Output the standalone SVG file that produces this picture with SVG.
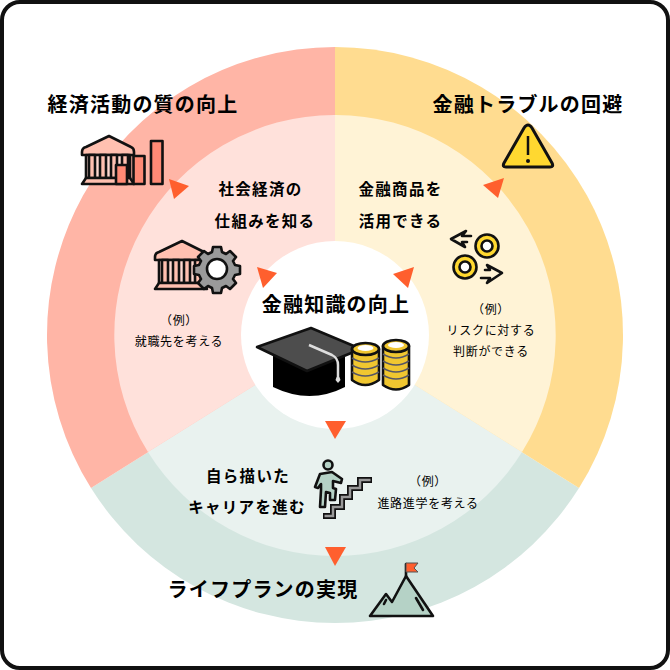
<svg xmlns="http://www.w3.org/2000/svg" width="670" height="670" viewBox="0 0 670 670">
<style>
text{font-family:"Noto Sans CJK JP","Liberation Sans",sans-serif;fill:#000;text-anchor:middle}
.t1{font-size:20px;font-weight:700;letter-spacing:1.2px}
.t2{font-size:15.500px;font-weight:700;letter-spacing:1.3px}
.t3{font-size:12px;font-weight:400;letter-spacing:.7px}
.k{stroke:#111;stroke-width:2.6;stroke-linejoin:round;stroke-linecap:round}
.tri{fill:#ff5f2e}
</style>
<defs>
<g id="bank">
<path class="k" fill="#ffc0b0" d="M1 17 Q1 13 5 12 L28 1 L50 12 Q53 13 53 17 L53 20 L1 20Z"/>
<path class="k" fill="#ffd9d0" d="M5 20H49V43H5Z"/>
<path class="k" fill="#ffc0b0" d="M8 20V43H14V20ZM19 20V43H25V20ZM30 20V43H36V20ZM41 20V43H47V20Z"/>
<path class="k" fill="#ffc0b0" d="M5 43H49L53 49H1Z"/>
</g>
</defs>
<rect x="2" y="2" width="666" height="666" rx="18" fill="#fff" stroke="#111" stroke-width="4"/>
<g id="rings">
<path fill="#d4e6e0" d="M335 335L91 488A288 288 0 0 0 579 488Z"/>
<path fill="#ffb5a6" d="M335 335L91 488A288 288 0 0 1 335 47Z"/>
<path fill="#ffdc90" d="M335 335V47A288 288 0 0 1 579 488Z"/>
<path fill="#e9f2ef" d="M335 335L148 452A220 220 0 0 0 522 452Z"/>
<path fill="#ffe1db" d="M335 335L148 452A220 220 0 0 1 335 115Z"/>
<path fill="#fff3d6" d="M335 335V115A220 220 0 0 1 522 452Z"/>
<circle cx="335" cy="335" r="94" fill="#fff"/>
</g>
<g id="connectors">
<path class="tri" d="M169 179L189 186L174 199Z"/>
<path class="tri" d="M504 178L483 185L498 198Z"/>
<path class="tri" d="M257 267L277 273L263 288Z"/>
<path class="tri" d="M414 267L393 274L408 288Z"/>
<path class="tri" d="M325 421H346L335 439Z"/>
<path class="tri" d="M325 547H346L335 566Z"/>
</g>
<g id="node-economy">
<text class="t1" x="143" y="112">経済活動の質の向上</text>
<use href="#bank" x="81" y="135"/>
<rect class="k" fill="#ff8a75" x="116" y="165" width="11" height="19"/>
<rect class="k" fill="#ff8a75" x="133.500" y="156" width="11" height="28"/>
<rect class="k" fill="#ff8a75" x="151" y="141" width="11.500" height="43"/>
</g>
<g id="node-trouble">
<text class="t1" x="528" y="112">金融トラブルの回避</text>
<path class="k" fill="#ffd830" d="M524 128Q528 122 532 128L552 163Q554 167 550 167H506Q502 167 504 163Z" style="stroke-width:3"/>
<path d="M528 136V155" stroke="#111" stroke-width="2.500"/>
<circle cx="528" cy="161" r="2" fill="#111"/>
</g>
<g id="node-society">
<text class="t2" x="260.500" y="195">社会経済の</text>
<text class="t2" x="265" y="227">仕組みを知る</text>
<use href="#bank" x="154" y="240" />
<path class="k" fill="#9a9a9a" d="M213 247h8l1 5 4 2 4-3 6 6-3 4 2 4 5 1v8l-5 1-2 4 3 4-6 6-4-3-4 2-1 5h-8l-1-5-4-2-4 3-6-6 3-4-2-4-5-1v-8l5-1 2-4-3-4 6-6 4 3 4-2z"/>
<circle cx="217" cy="269" r="10" fill="#fff" class="k"/>
<text class="t3" x="179" y="325">（例）</text>
<text class="t3" x="179" y="346">就職先を考える</text>
</g>
<g id="node-products">
<text class="t2" x="400.500" y="195">金融商品を</text>
<text class="t2" x="400.500" y="227">活用できる</text>
<circle cx="487" cy="246" r="11.500" fill="#ffd830" class="k"/><circle cx="487" cy="246" r="5.500" fill="#fff" class="k"/>
<circle cx="465" cy="267" r="11.500" fill="#ffd830" class="k"/><circle cx="465" cy="267" r="5.500" fill="#fff" class="k"/>
<path class="k" fill="none" d="M471 236H462L466 231L451 239L465 247L462 242H467"/>
<path class="k" fill="none" d="M481 278H490L487 283L502 273L487 265L490 270H485"/>
<text class="t3" x="491" y="314">（例）</text>
<text class="t3" x="491" y="335">リスクに対する</text>
<text class="t3" x="491" y="356">判断ができる</text>
</g>
<g id="node-center">
<text class="t1" x="336" y="312">金融知識の向上</text>
<path fill="#000" d="M273 355H345V387Q310 405 273 387Z"/>
<path class="k" fill="#4d4d4d" d="M257 347L311 328L361 349L307 371Z"/>
<path d="M309 345L332 355Q338 358 338 365V376" fill="none" stroke="#ddd" stroke-width="2.500"/>
<path fill="#ddd" d="M338 373l2.500 7-2.500 3-2.500-3z"/>
<path class="k" fill="#f0c630" d="M352 349H379V380Q365 390 352 380Z"/>
<path d="M352 358Q365 366 379 358M352 365Q365 373 379 365M352 372Q365 380 379 372" fill="none" stroke="#556" stroke-width="1.500"/>
<ellipse class="k" cx="365.500" cy="349" rx="13.500" ry="6" fill="#f0c630"/><ellipse cx="365.500" cy="348" rx="8" ry="3" fill="#fff"/>
<path class="k" fill="#f0c630" d="M383 346H409V385Q396 394 383 385Z"/>
<path d="M383 354Q396 362 409 354M383 361Q396 369 409 361M383 368Q396 376 409 368M383 375Q396 383 409 375" fill="none" stroke="#556" stroke-width="1.500"/>
<ellipse class="k" cx="396" cy="346" rx="13" ry="6" fill="#f0c630"/><ellipse cx="396" cy="345" rx="8" ry="3" fill="#fff"/>
</g>
<g id="node-career">
<text class="t2" x="248" y="482">自ら描いた</text>
<text class="t2" x="247" y="513">キャリアを進む</text>
<circle cx="328" cy="465" r="4.500" fill="#b5d2c6" class="k"/>
<path class="k" fill="#b5d2c6" d="M320 474L332 472L342 479L341 483L333 481V488L336 489L335 500L330 500V493L326 492L325 507H320L321 490V484L318 488L315 487Z"/>
<path fill="none" stroke="#111" stroke-width="6" stroke-linejoin="miter" d="M372 480H360V488H350V497H342V507H333V516H323"/>
<path fill="none" stroke="#999" stroke-width="2.500" stroke-linejoin="miter" d="M370.500 480H360V488H350V497H342V507H333V516H324.500"/>
<text class="t3" x="428" y="486">（例）</text>
<text class="t3" x="428" y="508">進路進学を考える</text>
</g>
<g id="node-plan">
<text class="t1" x="263" y="597">ライフプランの実現</text>
<path class="k" fill="#b5d2c6" d="M370 616L386 594L392 602L406 576L433 616Z"/>
<path class="k" fill="none" d="M384 604L386 600M416 598L423 610M406 576V564"/>
<path fill="#ff5f2e" stroke="#555" d="M406 563H418L414 568L418 572H406Z"/>
</g>
</svg>
